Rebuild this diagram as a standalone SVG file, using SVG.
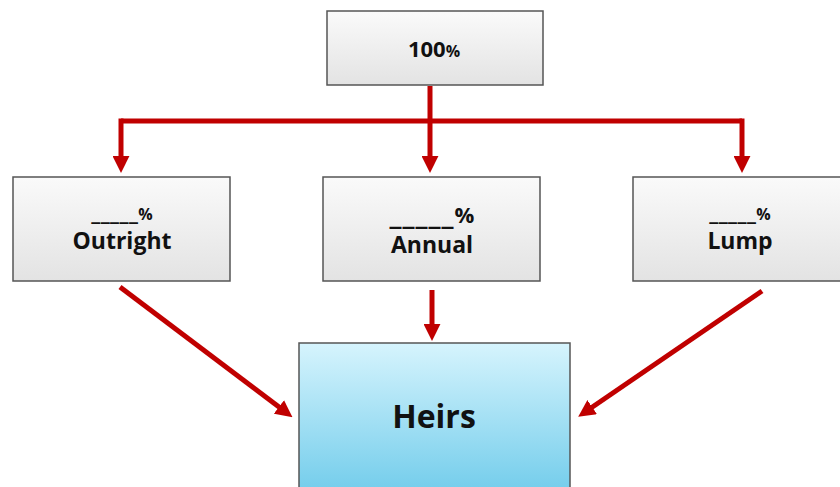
<svg xmlns="http://www.w3.org/2000/svg" width="840" height="487" viewBox="0 0 840 487">
<defs>
<linearGradient id="gray" x1="0" y1="0" x2="0" y2="1">
<stop offset="0" stop-color="#fafafa"/>
<stop offset="1" stop-color="#e3e3e3"/>
</linearGradient>
<linearGradient id="blue" x1="0" y1="0" x2="0" y2="1">
<stop offset="0" stop-color="#d6f4fd"/>
<stop offset="1" stop-color="#6ccaea"/>
</linearGradient>
<marker id="ah" viewBox="0 0 10 10" refX="3" refY="5" markerWidth="3.4" markerHeight="3.4" orient="auto" markerUnits="strokeWidth">
<path d="M0,0 L10,5 L0,10 z" fill="#c00000"/>
</marker>
</defs>
<style>
.box{fill:url(#gray);stroke:#555;stroke-width:1.5}
.heir{fill:url(#blue);stroke:#555;stroke-width:1.5}
.t{font-family:"Open Sans","Noto Sans","Liberation Sans",sans-serif;font-weight:bold;fill:#111;text-anchor:middle}
.u{font-family:"DejaVu Sans",sans-serif}
.c{fill:none;stroke:#c00000;stroke-width:5}
</style>
<g id="connectors">
<path class="c" d="M430,86 V121"/>
<path class="c" d="M121,121 H742"/>
<path class="c" d="M121,118.5 V161" marker-end="url(#ah)"/>
<path class="c" d="M430,121 V161" marker-end="url(#ah)"/>
<path class="c" d="M742,118.5 V161" marker-end="url(#ah)"/>
<path class="c" d="M120,287 L283,410" marker-end="url(#ah)"/>
<path class="c" d="M432,290 V329" marker-end="url(#ah)"/>
<path class="c" d="M762,291 L588,410" marker-end="url(#ah)"/>
</g>
<g id="top">
<rect class="box" x="327" y="11" width="216" height="74"/>
<text class="t" x="434" y="57" font-size="22">100<tspan font-size="16">%</tspan></text>
</g>
<g id="outright">
<rect class="box" x="13" y="177" width="217" height="104"/>
<text class="t" x="122" y="220" font-size="16"><tspan class="u" font-size="18" letter-spacing="0.4">_____</tspan>%</text>
<text class="t" x="122" y="249" font-size="23">Outright</text>
</g>
<g id="annual">
<rect class="box" x="323" y="177" width="217" height="104"/>
<text class="t" x="432" y="223" font-size="22"><tspan class="u" font-size="24" letter-spacing="1">_____</tspan>%</text>
<text class="t" x="432" y="253" font-size="23">Annual</text>
</g>
<g id="lump">
<rect class="box" x="633" y="177" width="217" height="104"/>
<text class="t" x="740" y="220" font-size="16"><tspan class="u" font-size="18" letter-spacing="0.4">_____</tspan>%</text>
<text class="t" x="740" y="249" font-size="23">Lump</text>
</g>
<g id="heirs">
<rect class="heir" x="299" y="343" width="271" height="160"/>
<text class="t" x="434" y="428" font-size="32">Heirs</text>
</g>
</svg>
